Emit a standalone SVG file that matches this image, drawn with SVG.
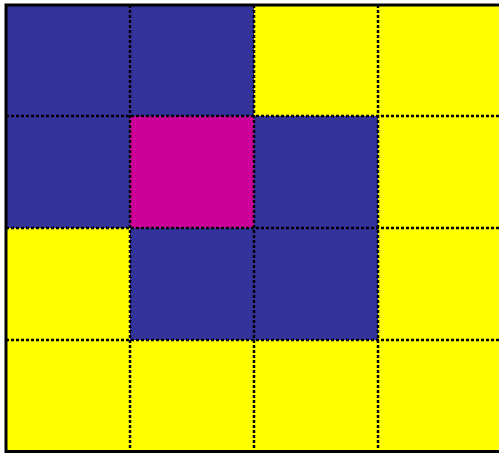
<svg xmlns="http://www.w3.org/2000/svg" width="499" height="453" viewBox="0 0 499 453">
<style>
.b{fill:#333399}.m{fill:#CC0099}.y{fill:#FFFF00}
.g{stroke:#000;stroke-width:2.5;stroke-dasharray:3 2;fill:none}
</style>
<rect x="0" y="0" width="499" height="453" fill="#fff"/>
<g id="cells">
<rect class="b" x="6" y="4" width="124" height="112"/>
<rect class="b" x="130" y="4" width="124" height="112"/>
<rect class="y" x="254" y="4" width="124" height="112"/>
<rect class="y" x="378" y="4" width="124" height="112"/>
<rect class="b" x="6" y="116" width="124" height="112"/>
<rect class="m" x="130" y="116" width="124" height="112"/>
<rect class="b" x="254" y="116" width="124" height="112"/>
<rect class="y" x="378" y="116" width="124" height="112"/>
<rect class="y" x="6" y="228" width="124" height="112"/>
<rect class="b" x="130" y="228" width="124" height="112"/>
<rect class="b" x="254" y="228" width="124" height="112"/>
<rect class="y" x="378" y="228" width="124" height="112"/>
<rect class="y" x="6" y="340" width="124" height="112"/>
<rect class="y" x="130" y="340" width="124" height="112"/>
<rect class="y" x="254" y="340" width="124" height="112"/>
<rect class="y" x="378" y="340" width="124" height="112"/>
</g>
<g id="grid">
<line class="g" x1="130" y1="5" x2="130" y2="451"/>
<line class="g" x1="254" y1="5" x2="254" y2="451"/>
<line class="g" x1="378" y1="5" x2="378" y2="451"/>
<line class="g" x1="6" y1="116" x2="502" y2="116"/>
<line class="g" x1="6" y1="228" x2="502" y2="228"/>
<line class="g" x1="6" y1="340" x2="502" y2="340"/>
</g>
<rect x="6" y="5" width="500" height="446.5" fill="none" stroke="#000" stroke-width="3"/>
</svg>
